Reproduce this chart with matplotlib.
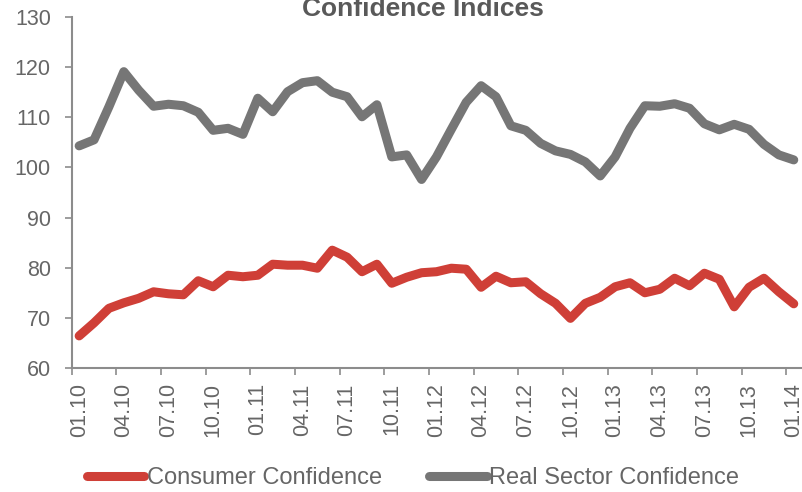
import numpy as np
import matplotlib
matplotlib.use("Agg")
import matplotlib.pyplot as plt
from matplotlib.ticker import FixedLocator

plt.rcParams['font.family'] = ['Liberation Sans', 'DejaVu Sans']

# Monthly observations, 01.2010 .. 01.2014
months = [f"{m:02d}.{y % 100:02d}" for y in range(2010, 2015) for m in range(1, 13)][:49]

consumer = [66.4, 69.0, 71.9, 73.0, 73.9, 75.2, 74.8, 74.6, 77.4, 76.2,
            78.5, 78.2, 78.5, 80.7, 80.5, 80.5, 79.9, 83.5, 82.1, 79.2,
            80.7, 76.9, 78.1, 79.0, 79.2, 79.9, 79.7, 76.1, 78.3, 77.0,
            77.2, 74.8, 72.9, 69.9, 72.9, 74.1, 76.2, 77.0, 75.0, 75.7,
            77.9, 76.4, 78.9, 77.7, 72.2, 76.1, 77.9, 75.2, 72.8]

real_sector = [104.3, 105.5, 112.1, 119.1, 115.4, 112.2, 112.6, 112.3, 111.0, 107.4,
               107.8, 106.6, 113.8, 111.1, 115.1, 116.9, 117.3, 115.0, 114.1, 110.1,
               112.5, 102.1, 102.5, 97.6, 102.1, 107.6, 113.0, 116.3, 114.1, 108.3,
               107.4, 104.8, 103.3, 102.6, 101.1, 98.3, 102.1, 107.8, 112.3, 112.2,
               112.7, 111.8, 108.7, 107.5, 108.6, 107.6, 104.6, 102.5, 101.5]

series_names = ["Consumer Confidence", "Real Sector Confidence"]
colors = ["#CF3F37", "#767676"]
text_color = "#666666"
axis_color = "#8C8C8C"

fig = plt.figure(figsize=(8.02, 4.92), dpi=100)
ax = fig.add_axes([71.7 / 802, 124 / 492, 729.5 / 802, 351 / 492])

x = np.arange(len(months))
for vals, name, col in zip([consumer, real_sector], series_names, colors):
    ax.plot(x, vals, color=col, lw=6.5, solid_capstyle='round',
            solid_joinstyle='round', label=name)

ax.set_xlim(-0.5, len(months) - 0.5)
ax.set_ylim(60, 130)
ax.set_yticks(np.arange(60, 131, 10))

# category labels every quarter, tick marks between categories
label_pos = x[::3]
ax.xaxis.set_major_locator(FixedLocator(label_pos))
ax.set_xticklabels([months[i] for i in label_pos], rotation=90)
ax.xaxis.set_minor_locator(FixedLocator(np.arange(-0.5, len(months) - 1, 3)))
ax.tick_params(axis='x', which='major', length=0, pad=11,
               labelsize=15.5, labelcolor=text_color)
ax.tick_params(axis='x', which='minor', length=5, width=1.2, color=axis_color,
               direction='out')
ax.tick_params(axis='y', length=5, width=1.2, color=axis_color, pad=10,
               labelsize=15.5, labelcolor=text_color)

for s in ['top', 'right']:
    ax.spines[s].set_visible(False)
for s in ['left', 'bottom']:
    ax.spines[s].set_color(axis_color)
    ax.spines[s].set_linewidth(1.5)

fig.text(423 / 802, 1 - 16 / 492, "Confidence Indices", ha='center',
         va='baseline', fontsize=19, fontweight='bold', color="#595959")

leg = fig.legend(loc='center', bbox_to_anchor=(413 / 802, 1 - 478 / 492), ncol=2,
                 frameon=False, fontsize=17, handlelength=2.45,
                 handletextpad=0.1, columnspacing=2.0, borderaxespad=0,
                 borderpad=0)
for t in leg.get_texts():
    t.set_color(text_color)

fig.savefig("out.png", dpi=100)
